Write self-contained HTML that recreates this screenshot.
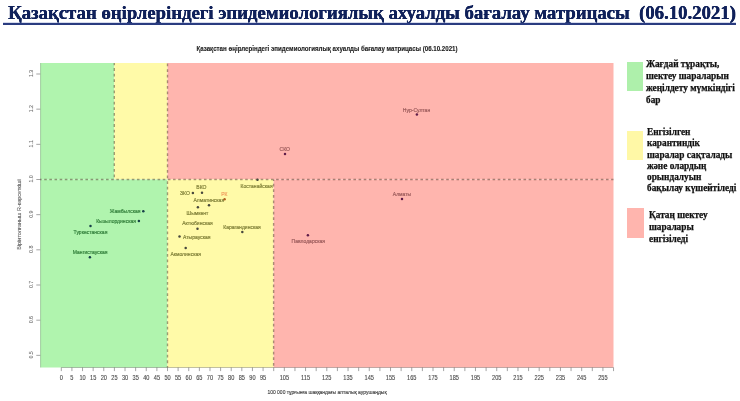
<!DOCTYPE html>
<html><head><meta charset="utf-8">
<style>
html,body{margin:0;padding:0;background:#fff;width:740px;height:401px;overflow:hidden;}
#t{will-change:transform;position:absolute;left:8px;top:1.6px;font-family:"Liberation Serif",serif;font-weight:bold;font-size:18.75px;color:#10215a;text-shadow:0.35px 0 0 #10215a, 0 0.2px 0 #10215a;white-space:pre;line-height:22px;}
#ul{position:absolute;left:3px;top:22.6px;width:733px;height:2px;background:#2a3c80;box-shadow:0 -0.5px 0.5px rgba(90,110,180,0.5);}
svg{position:absolute;left:0;top:0;}
.lg{will-change:transform;position:absolute;font-family:"Liberation Serif",serif;font-weight:bold;font-size:9.3px;line-height:11.9px;color:#111;-webkit-text-stroke:0.25px #111;white-space:nowrap;}
.sw{position:absolute;}
</style></head><body>
<div id="t">Қазақстан өңірлеріндегі эпидемиологиялық ахуалды бағалау матрицасы  (06.10.2021)</div>
<div id="ul"></div>
<svg width="740" height="401" viewBox="0 0 740 401" font-family="Liberation Sans, sans-serif">
<defs><filter id="b" x="0" y="0" width="740" height="401" filterUnits="userSpaceOnUse"><feGaussianBlur stdDeviation="0.38"/></filter></defs>
<g filter="url(#b)">

<text transform="translate(327,51.2) scale(0.92,1)" font-size="6.7" font-weight="bold" text-anchor="middle" fill="#222" stroke="#222" stroke-width="0.12">Қазақстан өңірлеріндегі эпидемиологиялық ахуалды бағалау матрицасы  (06.10.2021)</text>
<rect x="40.3" y="63.0" width="74.00" height="116.50" fill="#b0f4ae"/>
<rect x="114.3" y="63.0" width="53.20" height="116.50" fill="#fffaa8"/>
<rect x="167.5" y="63.0" width="446.00" height="116.50" fill="#ffb5ae"/>
<rect x="40.3" y="179.5" width="127.20" height="188.00" fill="#b0f4ae"/>
<rect x="167.5" y="179.5" width="106.10" height="188.00" fill="#fffaa8"/>
<rect x="273.6" y="179.5" width="339.90" height="188.00" fill="#ffb5ae"/>
<g stroke="#301808" stroke-opacity="0.42" stroke-width="1.4" fill="none">
<line x1="40" y1="179.5" x2="613.5" y2="179.5" stroke-dasharray="2.577,2.577" stroke-dashoffset="0.96"/>
<line x1="114.3" y1="63.0" x2="114.3" y2="179.5" stroke-dasharray="2.8,2.8" stroke-dashoffset="0.5"/>
<line x1="167.5" y1="63.0" x2="167.5" y2="367.5" stroke-dasharray="2.8,2.8" stroke-dashoffset="5.03"/>
<line x1="273.6" y1="179.5" x2="273.6" y2="367.5" stroke-dasharray="2.8,2.8" stroke-dashoffset="1.4"/>
</g>
<line x1="40.599999999999994" y1="63.0" x2="40.599999999999994" y2="367.5" stroke="#000" stroke-opacity="0.22" stroke-width="0.8"/>
<line x1="61.30" y1="367.5" x2="613.54" y2="367.5" stroke="#000" stroke-opacity="0.3" stroke-width="0.8"/>
<g stroke="#666" stroke-width="0.6" fill="none">
<line x1="36.3" y1="355.35" x2="40.3" y2="355.35"/>
<line x1="36.3" y1="320.18" x2="40.3" y2="320.18"/>
<line x1="36.3" y1="285.01" x2="40.3" y2="285.01"/>
<line x1="36.3" y1="249.84" x2="40.3" y2="249.84"/>
<line x1="36.3" y1="214.67" x2="40.3" y2="214.67"/>
<line x1="36.3" y1="179.50" x2="40.3" y2="179.50"/>
<line x1="36.3" y1="144.33" x2="40.3" y2="144.33"/>
<line x1="36.3" y1="109.16" x2="40.3" y2="109.16"/>
<line x1="36.3" y1="73.99" x2="40.3" y2="73.99"/>
<line x1="61.30" y1="367.5" x2="61.30" y2="371.1"/>
<line x1="71.92" y1="367.5" x2="71.92" y2="371.1"/>
<line x1="82.54" y1="367.5" x2="82.54" y2="371.1"/>
<line x1="93.16" y1="367.5" x2="93.16" y2="371.1"/>
<line x1="103.78" y1="367.5" x2="103.78" y2="371.1"/>
<line x1="114.40" y1="367.5" x2="114.40" y2="371.1"/>
<line x1="125.02" y1="367.5" x2="125.02" y2="371.1"/>
<line x1="135.64" y1="367.5" x2="135.64" y2="371.1"/>
<line x1="146.26" y1="367.5" x2="146.26" y2="371.1"/>
<line x1="156.88" y1="367.5" x2="156.88" y2="371.1"/>
<line x1="167.50" y1="367.5" x2="167.50" y2="371.1"/>
<line x1="178.12" y1="367.5" x2="178.12" y2="371.1"/>
<line x1="188.74" y1="367.5" x2="188.74" y2="371.1"/>
<line x1="199.36" y1="367.5" x2="199.36" y2="371.1"/>
<line x1="209.98" y1="367.5" x2="209.98" y2="371.1"/>
<line x1="220.60" y1="367.5" x2="220.60" y2="371.1"/>
<line x1="231.22" y1="367.5" x2="231.22" y2="371.1"/>
<line x1="241.84" y1="367.5" x2="241.84" y2="371.1"/>
<line x1="252.46" y1="367.5" x2="252.46" y2="371.1"/>
<line x1="263.08" y1="367.5" x2="263.08" y2="371.1"/>
<line x1="273.70" y1="367.5" x2="273.70" y2="371.1"/>
<line x1="284.32" y1="367.5" x2="284.32" y2="371.1"/>
<line x1="294.94" y1="367.5" x2="294.94" y2="371.1"/>
<line x1="305.56" y1="367.5" x2="305.56" y2="371.1"/>
<line x1="316.18" y1="367.5" x2="316.18" y2="371.1"/>
<line x1="326.80" y1="367.5" x2="326.80" y2="371.1"/>
<line x1="337.42" y1="367.5" x2="337.42" y2="371.1"/>
<line x1="348.04" y1="367.5" x2="348.04" y2="371.1"/>
<line x1="358.66" y1="367.5" x2="358.66" y2="371.1"/>
<line x1="369.28" y1="367.5" x2="369.28" y2="371.1"/>
<line x1="379.90" y1="367.5" x2="379.90" y2="371.1"/>
<line x1="390.52" y1="367.5" x2="390.52" y2="371.1"/>
<line x1="401.14" y1="367.5" x2="401.14" y2="371.1"/>
<line x1="411.76" y1="367.5" x2="411.76" y2="371.1"/>
<line x1="422.38" y1="367.5" x2="422.38" y2="371.1"/>
<line x1="433.00" y1="367.5" x2="433.00" y2="371.1"/>
<line x1="443.62" y1="367.5" x2="443.62" y2="371.1"/>
<line x1="454.24" y1="367.5" x2="454.24" y2="371.1"/>
<line x1="464.86" y1="367.5" x2="464.86" y2="371.1"/>
<line x1="475.48" y1="367.5" x2="475.48" y2="371.1"/>
<line x1="486.10" y1="367.5" x2="486.10" y2="371.1"/>
<line x1="496.72" y1="367.5" x2="496.72" y2="371.1"/>
<line x1="507.34" y1="367.5" x2="507.34" y2="371.1"/>
<line x1="517.96" y1="367.5" x2="517.96" y2="371.1"/>
<line x1="528.58" y1="367.5" x2="528.58" y2="371.1"/>
<line x1="539.20" y1="367.5" x2="539.20" y2="371.1"/>
<line x1="549.82" y1="367.5" x2="549.82" y2="371.1"/>
<line x1="560.44" y1="367.5" x2="560.44" y2="371.1"/>
<line x1="571.06" y1="367.5" x2="571.06" y2="371.1"/>
<line x1="581.68" y1="367.5" x2="581.68" y2="371.1"/>
<line x1="592.30" y1="367.5" x2="592.30" y2="371.1"/>
<line x1="602.92" y1="367.5" x2="602.92" y2="371.1"/>
<line x1="613.54" y1="367.5" x2="613.54" y2="371.1"/>
</g>
<g fill="#4a4a4a" stroke="#4a4a4a" stroke-width="0.12">
<text transform="translate(33.3,354.85) rotate(-90)" font-size="5.2" text-anchor="middle" fill="#707070" stroke="#707070" stroke-width="0.1">0.5</text>
<text transform="translate(33.3,319.68) rotate(-90)" font-size="5.2" text-anchor="middle" fill="#707070" stroke="#707070" stroke-width="0.1">0.6</text>
<text transform="translate(33.3,284.51) rotate(-90)" font-size="5.2" text-anchor="middle" fill="#707070" stroke="#707070" stroke-width="0.1">0.7</text>
<text transform="translate(33.3,249.34) rotate(-90)" font-size="5.2" text-anchor="middle" fill="#707070" stroke="#707070" stroke-width="0.1">0.8</text>
<text transform="translate(33.3,214.17) rotate(-90)" font-size="5.2" text-anchor="middle" fill="#707070" stroke="#707070" stroke-width="0.1">0.9</text>
<text transform="translate(33.3,179.00) rotate(-90)" font-size="5.2" text-anchor="middle" fill="#707070" stroke="#707070" stroke-width="0.1">1.0</text>
<text transform="translate(33.3,143.83) rotate(-90)" font-size="5.2" text-anchor="middle" fill="#707070" stroke="#707070" stroke-width="0.1">1.1</text>
<text transform="translate(33.3,108.66) rotate(-90)" font-size="5.2" text-anchor="middle" fill="#707070" stroke="#707070" stroke-width="0.1">1.2</text>
<text transform="translate(33.3,73.49) rotate(-90)" font-size="5.2" text-anchor="middle" fill="#707070" stroke="#707070" stroke-width="0.1">1.3</text>
<text transform="translate(61.30,380.1) scale(0.88,1)" font-size="6.4" text-anchor="middle">0</text>
<text transform="translate(71.92,380.1) scale(0.88,1)" font-size="6.4" text-anchor="middle">5</text>
<text transform="translate(82.54,380.1) scale(0.88,1)" font-size="6.4" text-anchor="middle">10</text>
<text transform="translate(93.16,380.1) scale(0.88,1)" font-size="6.4" text-anchor="middle">15</text>
<text transform="translate(103.78,380.1) scale(0.88,1)" font-size="6.4" text-anchor="middle">20</text>
<text transform="translate(114.40,380.1) scale(0.88,1)" font-size="6.4" text-anchor="middle">25</text>
<text transform="translate(125.02,380.1) scale(0.88,1)" font-size="6.4" text-anchor="middle">30</text>
<text transform="translate(135.64,380.1) scale(0.88,1)" font-size="6.4" text-anchor="middle">35</text>
<text transform="translate(146.26,380.1) scale(0.88,1)" font-size="6.4" text-anchor="middle">40</text>
<text transform="translate(156.88,380.1) scale(0.88,1)" font-size="6.4" text-anchor="middle">45</text>
<text transform="translate(167.50,380.1) scale(0.88,1)" font-size="6.4" text-anchor="middle">50</text>
<text transform="translate(178.12,380.1) scale(0.88,1)" font-size="6.4" text-anchor="middle">55</text>
<text transform="translate(188.74,380.1) scale(0.88,1)" font-size="6.4" text-anchor="middle">60</text>
<text transform="translate(199.36,380.1) scale(0.88,1)" font-size="6.4" text-anchor="middle">65</text>
<text transform="translate(209.98,380.1) scale(0.88,1)" font-size="6.4" text-anchor="middle">70</text>
<text transform="translate(220.60,380.1) scale(0.88,1)" font-size="6.4" text-anchor="middle">75</text>
<text transform="translate(231.22,380.1) scale(0.88,1)" font-size="6.4" text-anchor="middle">80</text>
<text transform="translate(241.84,380.1) scale(0.88,1)" font-size="6.4" text-anchor="middle">85</text>
<text transform="translate(252.46,380.1) scale(0.88,1)" font-size="6.4" text-anchor="middle">90</text>
<text transform="translate(263.08,380.1) scale(0.88,1)" font-size="6.4" text-anchor="middle">95</text>
<text transform="translate(284.32,380.1) scale(0.88,1)" font-size="6.4" text-anchor="middle">105</text>
<text transform="translate(305.56,380.1) scale(0.88,1)" font-size="6.4" text-anchor="middle">115</text>
<text transform="translate(326.80,380.1) scale(0.88,1)" font-size="6.4" text-anchor="middle">125</text>
<text transform="translate(348.04,380.1) scale(0.88,1)" font-size="6.4" text-anchor="middle">135</text>
<text transform="translate(369.28,380.1) scale(0.88,1)" font-size="6.4" text-anchor="middle">145</text>
<text transform="translate(390.52,380.1) scale(0.88,1)" font-size="6.4" text-anchor="middle">155</text>
<text transform="translate(411.76,380.1) scale(0.88,1)" font-size="6.4" text-anchor="middle">165</text>
<text transform="translate(433.00,380.1) scale(0.88,1)" font-size="6.4" text-anchor="middle">175</text>
<text transform="translate(454.24,380.1) scale(0.88,1)" font-size="6.4" text-anchor="middle">185</text>
<text transform="translate(475.48,380.1) scale(0.88,1)" font-size="6.4" text-anchor="middle">195</text>
<text transform="translate(496.72,380.1) scale(0.88,1)" font-size="6.4" text-anchor="middle">205</text>
<text transform="translate(517.96,380.1) scale(0.88,1)" font-size="6.4" text-anchor="middle">215</text>
<text transform="translate(539.20,380.1) scale(0.88,1)" font-size="6.4" text-anchor="middle">225</text>
<text transform="translate(560.44,380.1) scale(0.88,1)" font-size="6.4" text-anchor="middle">235</text>
<text transform="translate(581.68,380.1) scale(0.88,1)" font-size="6.4" text-anchor="middle">245</text>
<text transform="translate(602.92,380.1) scale(0.88,1)" font-size="6.4" text-anchor="middle">255</text>
</g>
<text transform="translate(327,394.2) scale(0.9,1)" font-size="5.55" text-anchor="middle" fill="#3a3a3a" stroke="#3a3a3a" stroke-width="0.12">100 000 тұрғынға шаққандағы апталық аурушаңдық</text>
<text transform="translate(21,214.5) rotate(-90)" font-size="5.5" text-anchor="middle" fill="#666" stroke="#666" stroke-width="0.1">Бірінтолғаныш R-көрсеткіші</text>
<g>
<circle cx="143.3" cy="211.2" r="1.25" fill="#163f48"/>
<text transform="translate(140.50,213.36) scale(0.84,1)" font-size="6" text-anchor="end" fill="#317e3a" stroke="#317e3a" stroke-width="0.2">Жамбылская</text>
<circle cx="138.9" cy="221.1" r="1.25" fill="#163f48"/>
<text transform="translate(136.00,223.26) scale(0.84,1)" font-size="6" text-anchor="end" fill="#317e3a" stroke="#317e3a" stroke-width="0.2">Кызылординская</text>
<circle cx="90.5" cy="225.9" r="1.25" fill="#163f48"/>
<text transform="translate(90.50,234.46) scale(0.84,1)" font-size="6" text-anchor="middle" fill="#317e3a" stroke="#317e3a" stroke-width="0.2">Туркестанская</text>
<circle cx="89.9" cy="257.2" r="1.25" fill="#163f48"/>
<text transform="translate(90.20,253.96) scale(0.84,1)" font-size="6" text-anchor="middle" fill="#317e3a" stroke="#317e3a" stroke-width="0.2">Мангистауская</text>
<circle cx="202" cy="192.7" r="1.25" fill="#46463c"/>
<text transform="translate(201.40,188.76) scale(0.84,1)" font-size="6" text-anchor="middle" fill="#7e7e36" stroke="#7e7e36" stroke-width="0.2">ВКО</text>
<circle cx="192.9" cy="193.1" r="1.25" fill="#46463c"/>
<text transform="translate(189.80,195.26) scale(0.84,1)" font-size="6" text-anchor="end" fill="#7e7e36" stroke="#7e7e36" stroke-width="0.2">ЗКО</text>
<circle cx="209" cy="205.3" r="1.25" fill="#46463c"/>
<text transform="translate(208.80,202.26) scale(0.84,1)" font-size="6" text-anchor="middle" fill="#7e7e36" stroke="#7e7e36" stroke-width="0.2">Алматинская</text>
<circle cx="197.9" cy="207.3" r="1.25" fill="#46463c"/>
<text transform="translate(197.50,215.16) scale(0.84,1)" font-size="6" text-anchor="middle" fill="#7e7e36" stroke="#7e7e36" stroke-width="0.2">Шымкент</text>
<circle cx="197.5" cy="228.7" r="1.25" fill="#46463c"/>
<text transform="translate(197.50,225.16) scale(0.84,1)" font-size="6" text-anchor="middle" fill="#7e7e36" stroke="#7e7e36" stroke-width="0.2">Актюбинская</text>
<circle cx="179.5" cy="236.6" r="1.25" fill="#46463c"/>
<text transform="translate(183.00,238.76) scale(0.84,1)" font-size="6" text-anchor="start" fill="#7e7e36" stroke="#7e7e36" stroke-width="0.2">Атырауская</text>
<circle cx="185.7" cy="248" r="1.25" fill="#46463c"/>
<text transform="translate(185.70,255.86) scale(0.84,1)" font-size="6" text-anchor="middle" fill="#7e7e36" stroke="#7e7e36" stroke-width="0.2">Акмолинская</text>
<circle cx="242.3" cy="232" r="1.25" fill="#46463c"/>
<text transform="translate(242.00,229.16) scale(0.84,1)" font-size="6" text-anchor="middle" fill="#7e7e36" stroke="#7e7e36" stroke-width="0.2">Карагандинская</text>
<circle cx="257.5" cy="179.8" r="1.25" fill="#46463c"/>
<text transform="translate(256.60,188.16) scale(0.84,1)" font-size="6" text-anchor="middle" fill="#7e7e36" stroke="#7e7e36" stroke-width="0.2">Костанайская</text>
<circle cx="416.9" cy="114.5" r="1.25" fill="#5e1a48"/>
<text transform="translate(416.50,111.76) scale(0.84,1)" font-size="6" text-anchor="middle" fill="#9a5a5a" stroke="#9a5a5a" stroke-width="0.2">Нур-Султан</text>
<circle cx="285" cy="154" r="1.25" fill="#5e1a48"/>
<text transform="translate(284.80,150.66) scale(0.84,1)" font-size="6" text-anchor="middle" fill="#9a5a5a" stroke="#9a5a5a" stroke-width="0.2">СКО</text>
<circle cx="402" cy="198.9" r="1.25" fill="#5e1a48"/>
<text transform="translate(402.00,195.56) scale(0.84,1)" font-size="6" text-anchor="middle" fill="#9a5a5a" stroke="#9a5a5a" stroke-width="0.2">Алматы</text>
<circle cx="307.9" cy="235.3" r="1.25" fill="#5e1a48"/>
<text transform="translate(308.30,242.56) scale(0.84,1)" font-size="6" text-anchor="middle" fill="#9a5a5a" stroke="#9a5a5a" stroke-width="0.2">Павлодарская</text>
<circle cx="224.6" cy="199.3" r="1.2" fill="#b06020"/>
<text transform="translate(224.30,195.96) scale(0.84,1)" font-size="6" text-anchor="middle" fill="#f0a060" stroke="#f0a060" stroke-width="0.2">РК</text>
</g>
</g></svg>
<div class="sw" style="left:627px;top:62px;width:16px;height:29.3px;background:#aef0ab"></div>
<div class="lg" style="left:646px;top:59px;">Жағдай тұрақты,<br>шектеу шараларын<br>жеңілдету мүмкіндігі<br>бар</div>
<div class="sw" style="left:627px;top:131px;width:16px;height:29px;background:#fff8a6"></div>
<div class="lg" style="left:647px;top:127px;line-height:11.3px">Енгізілген<br>карантиндік<br>шаралар сақталады<br>және олардың<br>орындалуын<br>бақылау күшейтіледі</div>
<div class="sw" style="left:627px;top:208px;width:17px;height:30px;background:#ffb5ae"></div>
<div class="lg" style="left:649px;top:208.8px;line-height:12px">Қатаң шектеу<br>шаралары<br>енгізіледі</div>
</body></html>
